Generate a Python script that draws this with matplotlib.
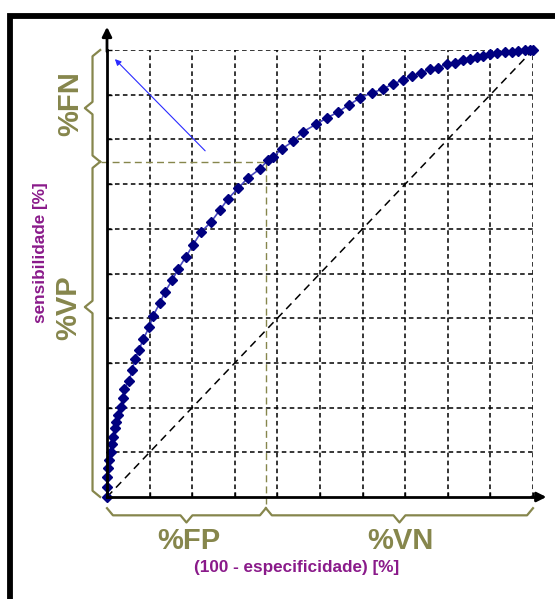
import matplotlib.pyplot as plt
from matplotlib.patches import Rectangle

plt.rcParams['font.family'] = ['Liberation Sans', 'DejaVu Sans']

# curva ROC: (100 - especificidade) x sensibilidade, em %
fp = [0, 0, 0, 0.2, 0.5, 0.9, 1.2, 1.4, 1.9, 2.1, 2.6, 3.3, 3.8, 4.0, 5.2, 5.9,
      6.6, 7.5, 8.5, 9.9, 10.8, 12.4, 13.6, 15.3, 16.7, 18.5, 20.2, 22.1, 24.4,
      26.5, 28.4, 30.8, 33.1, 35.9, 37.8, 39.0, 41.1, 43.7, 46.0, 49.1, 51.6,
      54.2, 56.8, 59.4, 62.2, 64.8, 67.1, 69.5, 71.6, 73.7, 75.8, 77.7, 79.8,
      81.7, 83.6, 85.2, 86.9, 88.3, 89.9, 91.5, 93.4, 95.1, 96.5, 98.1, 99.3, 100]
sens = [0, 2.2, 4.5, 6.5, 8.3, 10.1, 11.9, 13.4, 15.4, 16.8, 18.3, 20.1, 22.1,
        24.2, 26.0, 28.4, 30.9, 32.9, 35.3, 38.0, 40.5, 43.4, 45.9, 48.5, 51.0,
        53.7, 56.4, 59.3, 61.5, 64.2, 66.7, 69.1, 71.4, 73.4, 75.4, 76.1, 77.9,
        79.6, 81.7, 83.4, 84.8, 86.1, 87.7, 89.3, 90.4, 91.3, 92.4, 93.3, 94.2,
        94.9, 95.7, 96.0, 96.9, 97.1, 97.8, 98.0, 98.4, 98.7, 99.1, 99.3, 99.6,
        99.6, 99.8, 100, 100, 100]

# ponto de corte marcado
corte_fp = 37.3
corte_sens = 75.0

oliva = '#86864c'
roxo = '#8a1a8a'

W, H = 555, 599
fig = plt.figure(figsize=(W / 100, H / 100), dpi=100)

# moldura preta (cortada a direita e embaixo)
fig.patches.append(Rectangle((10 / W, -0.05), 1.2, (H - 15.5) / H + 0.05,
                             transform=fig.transFigure, fill=False,
                             edgecolor='black', linewidth=4.2))

ax = fig.add_axes([107 / W, (H - 497) / H, 426 / W, 447 / H])
ax.set_xlim(0, 100)
ax.set_ylim(0, 100)

# grade tracejada
for v in range(10, 101, 10):
    ax.plot([v, v], [0, 100], color='black', lw=1.1, dashes=(3, 2.2), zorder=1)
    ax.plot([0, 100], [v, v], color='black', lw=1.1, dashes=(3, 2.2), zorder=1)

ax.set_xticks(range(0, 101, 10))
ax.set_yticks(range(0, 101, 10))
ax.tick_params(direction='in', length=3.5, width=1, labelbottom=False,
               labelleft=False)
for s in ['top', 'right']:
    ax.spines[s].set_visible(False)
for s in ['left', 'bottom']:
    ax.spines[s].set_linewidth(2)
    ax.spines[s].set_zorder(5)

# setas dos eixos
ax.annotate('', xy=(0, 105.8), xytext=(0, 99), annotation_clip=False,
            arrowprops=dict(arrowstyle='-|>', color='black', lw=2,
                            mutation_scale=14))
ax.annotate('', xy=(103.8, 0), xytext=(99, 0), annotation_clip=False,
            arrowprops=dict(arrowstyle='-|>', color='black', lw=2,
                            mutation_scale=14))

# diagonal
ax.plot([0, 100], [0, 100], color='black', lw=1.1, dashes=(5, 3.5), zorder=2)

# linhas do ponto de corte
ax.plot([-1.5, corte_fp], [corte_sens, corte_sens], color=oliva, lw=1,
        dashes=(5, 3), clip_on=False, zorder=2)
ax.plot([corte_fp, corte_fp], [-1.5, corte_sens], color=oliva, lw=1,
        dashes=(5, 3), clip_on=False, zorder=2)

# curva ROC
ax.plot(fp, sens, color='#4a4ac0', lw=1.2, zorder=3, clip_on=False)
ax.plot(fp, sens, ls='none', marker='D', markersize=4.8, color='#000080',
        zorder=4, clip_on=False)

# seta azul
ax.annotate('', xy=(1.4, 98.4), xytext=(23.5, 77), annotation_clip=False,
            arrowprops=dict(arrowstyle='-|>', color='#2a2aff', lw=0.8,
                            mutation_scale=9))


# chaves
def chave_h(x0, x1, y0, d, s=1.4):
    xm = (x0 + x1) / 2
    xs = [x0, x0 + s, xm - s, xm, xm + s, x1 - s, x1]
    ys = [y0, y0 - d, y0 - d, y0 - 2 * d, y0 - d, y0 - d, y0]
    ax.plot(xs, ys, color=oliva, lw=1.6, clip_on=False, solid_joinstyle='round')


def chave_v(y0, y1, x0, d, s=1.4, ym=None):
    if ym is None:
        ym = (y0 + y1) / 2
    ys = [y0, y0 + s, ym - s, ym, ym + s, y1 - s, y1]
    xs = [x0, x0 - d, x0 - d, x0 - 2 * d, x0 - d, x0 - d, x0]
    ax.plot(xs, ys, color=oliva, lw=1.6, clip_on=False, solid_joinstyle='round')


chave_h(0, corte_fp, -2.5, 1.6)
chave_h(corte_fp, 100, -2.5, 1.6)
chave_v(corte_sens, 100, -1.6, 1.8, ym=87.0)
chave_v(0, corte_sens, -1.6, 1.8, ym=42.5)

# rotulos
ax.text(-8.6, 88.0, '%FN', rotation=90, ha='center', va='center',
        color=oliva, fontsize=21, fontweight='bold')
ax.text(-9.0, 42.3, '%VP', rotation=90, ha='center', va='center',
        color=oliva, fontsize=21, fontweight='bold')
ax.text(19.3, -9.8, '%FP', ha='center', va='center',
        color=oliva, fontsize=21, fontweight='bold')
ax.text(68.8, -9.8, '%VN', ha='center', va='center',
        color=oliva, fontsize=21, fontweight='bold')
ax.text(-15.5, 54.6, 'sensibilidade [%]', rotation=90, ha='center',
        va='center', color=roxo, fontsize=12.3, fontweight='bold')
ax.text(44.6, -15.8, '(100 - especificidade) [%]', ha='center', va='center',
        color=roxo, fontsize=12.3, fontweight='bold')

fig.savefig('out.png', dpi=100)
